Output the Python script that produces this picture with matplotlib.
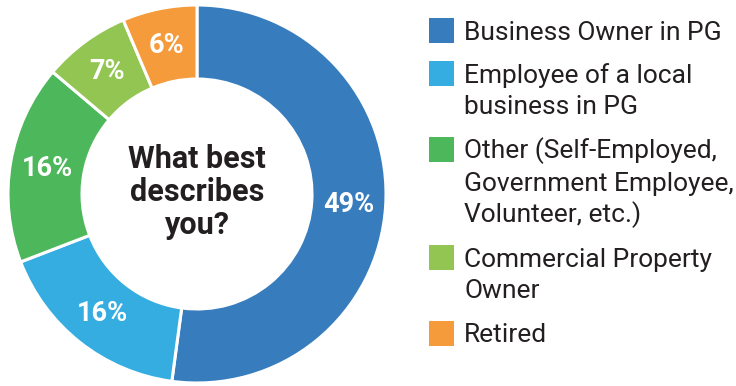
import matplotlib
matplotlib.use("Agg")
import matplotlib.pyplot as plt
import numpy as np
from matplotlib.patches import Rectangle

W, H = 736, 386
DPI = 100

categories = [
    "Business Owner in PG",
    "Employee of a local\nbusiness in PG",
    "Other (Self-Employed,\nGovernment Employee,\nVolunteer, etc.)",
    "Commercial Property\nOwner",
    "Retired",
]
shares = [49, 16, 16, 7, 6]
colors = ["#377dbd", "#35ade0", "#4db75b", "#93c553", "#f59b3b"]
center_title = "What best\ndescribes\nyou?"

TEXT = "#231f20"
FONT = "Roboto"

fig = plt.figure(figsize=(W / DPI, H / DPI), dpi=DPI)
fig.patch.set_facecolor("white")

# donut, placed in pixel terms: centre (197, 194), outer radius ~189 px
cx, cy, r_out = 197, 194, 189
half = 190
ax = fig.add_axes([(cx - half) / W, (H - cy - half) / H, 2 * half / W, 2 * half / H])

ring = 1 - 115 / r_out
wedges, _ = ax.pie(shares, colors=colors, startangle=90, counterclock=False,
                   radius=1.0,
                   wedgeprops=dict(width=ring, edgecolor="white", linewidth=2.2))
# pie() resets the limits, so set them afterwards
ax.set_xlim(-half / r_out, half / r_out)
ax.set_ylim(-half / r_out, half / r_out)
ax.set_aspect("equal")
ax.axis("off")

r_lab = 1 - ring / 2
for w, v in zip(wedges, shares):
    mid = np.deg2rad((w.theta1 + w.theta2) / 2)
    ax.text(r_lab * np.cos(mid), r_lab * np.sin(mid), f"{v}%",
            ha="center", va="center", color="white", fontsize=19.5,
            fontweight="bold", family=FONT)

ax.text(0, 0.01, center_title, ha="center", va="center", color=TEXT,
        fontsize=22, fontweight="bold", family=FONT, linespacing=1.12)

# legend drawn in pixel coordinates
lg = fig.add_axes([0, 0, 1, 1])
lg.set_xlim(0, W)
lg.set_ylim(H, 0)
lg.axis("off")

row_y = [30, 73, 149, 257, 333]
sq = 25
line_h = 32
for label, c, y in zip(categories, colors, row_y):
    lg.add_patch(Rectangle((429, y - sq / 2), sq, sq, color=c, lw=0))
    for i, line in enumerate(label.split("\n")):
        lg.text(464, y + 9.5 + i * line_h, line, ha="left", va="baseline",
                color=TEXT, fontsize=19, family=FONT)

fig.savefig("out.png", dpi=DPI, facecolor="white")
